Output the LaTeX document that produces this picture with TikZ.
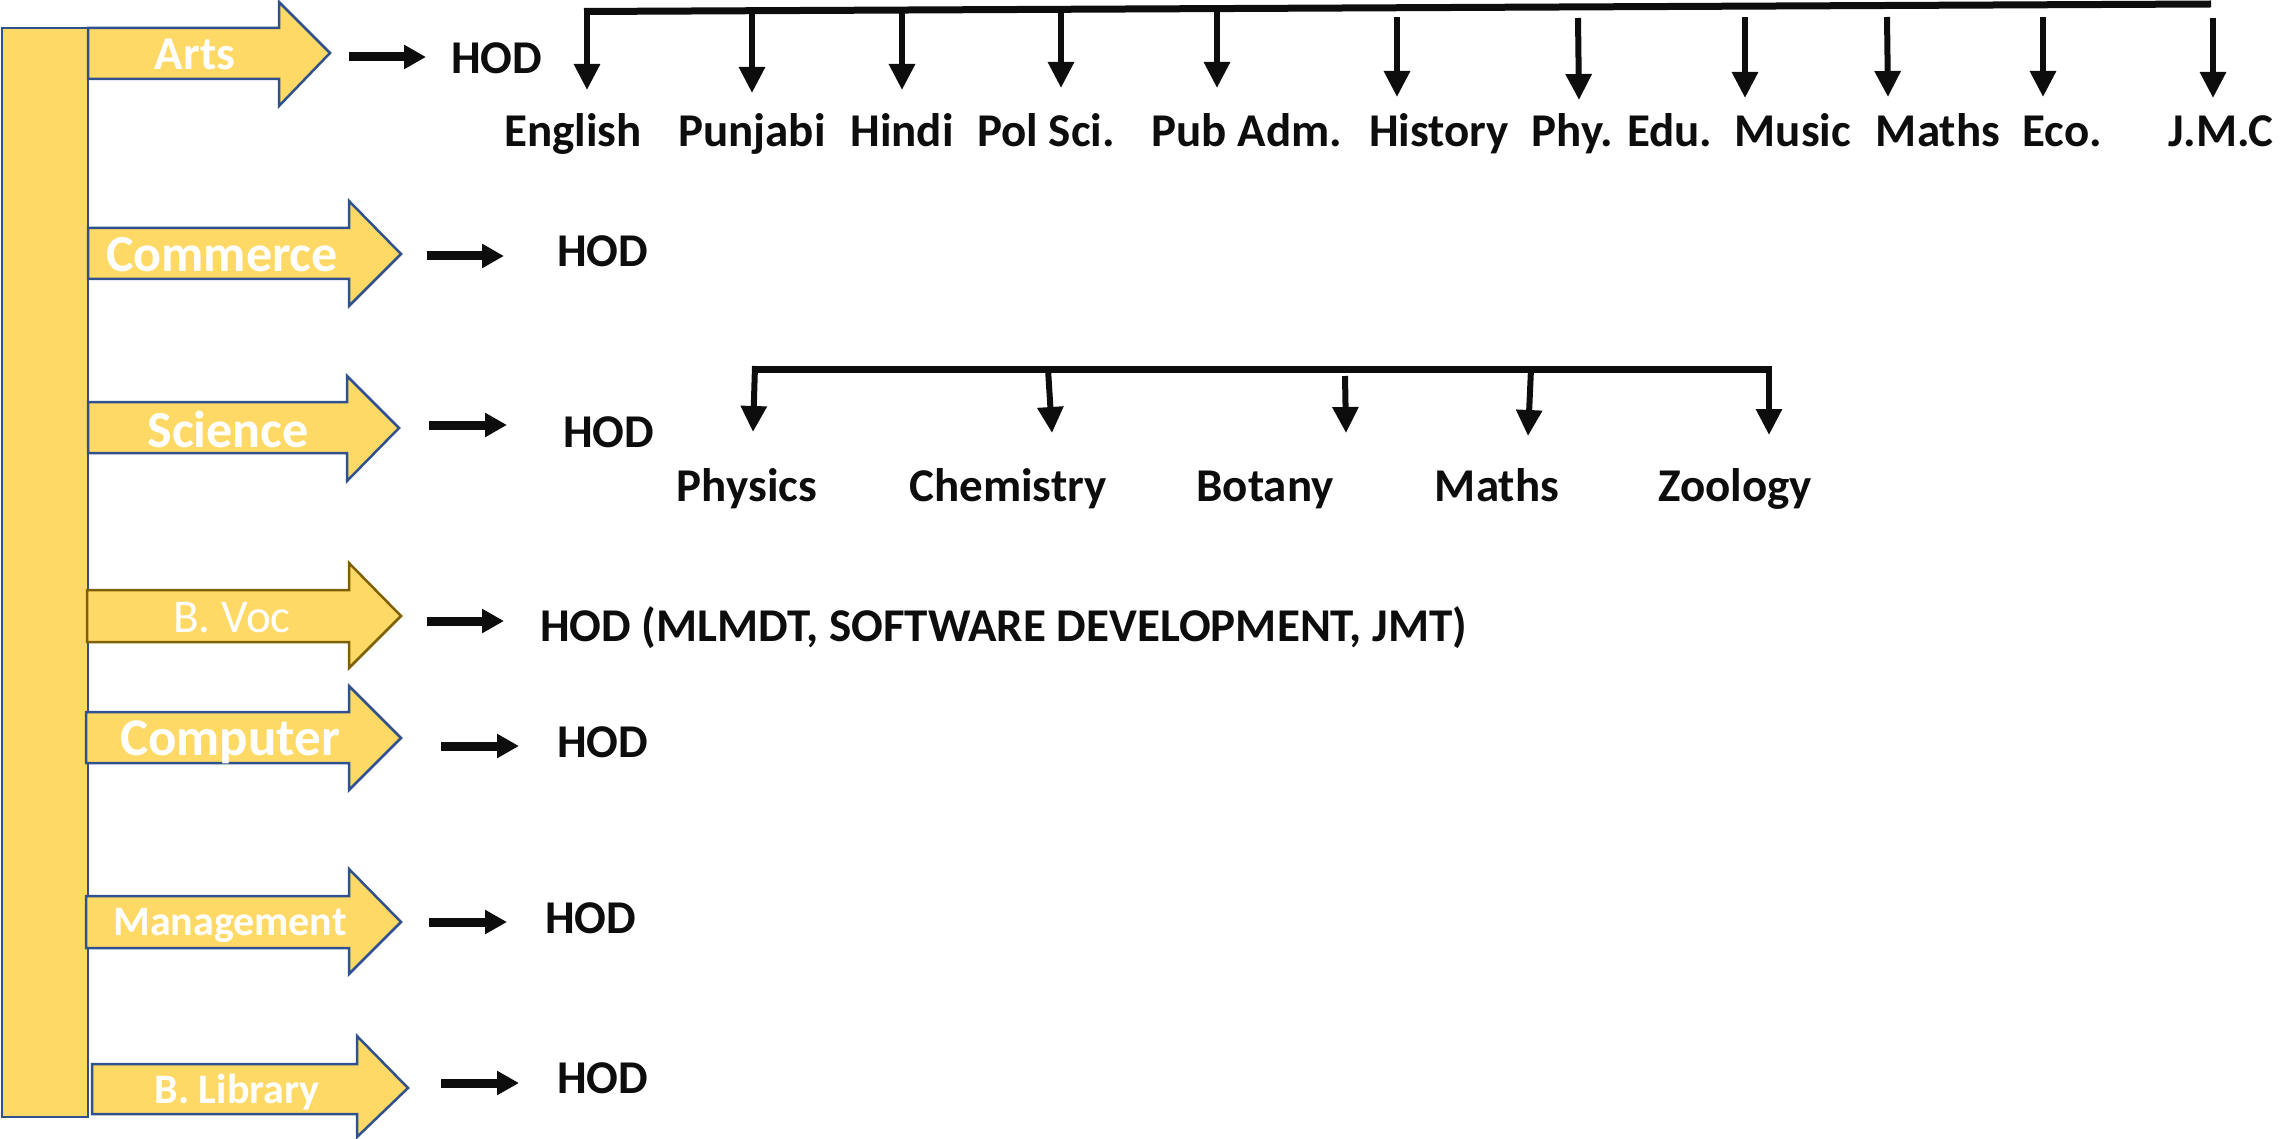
\documentclass[tikz,border=0pt]{standalone}
\usepackage{fontspec}
\setmainfont{Carlito}
\usetikzlibrary{arrows.meta}
\definecolor{gold}{HTML}{FFD966}
\definecolor{blueline}{HTML}{2F528F}
\definecolor{brownline}{HTML}{7F6000}
\definecolor{ink}{HTML}{0D0D0D}
\newcommand{\fsz}[1]{\fontsize{#1}{#1}\selectfont}
\begin{document}
\begin{tikzpicture}[x=1pt,y=-1pt,
  blk/.style={fill=gold,draw=blueline,line width=2.5pt,line join=miter},
  blkb/.style={blk,draw=brownline},
  inlbl/.style={text=white,inner sep=0pt,anchor=base,font=\bfseries\fsz{#1}},
  hod/.style={text=ink,inner sep=0pt,anchor=base west,font=\bfseries\fsz{47}},
  dept/.style={text=ink,inner sep=0pt,anchor=base,font=\bfseries\fsz{47}},
  hodarr/.style={draw=ink,line width=9pt,-{Triangle[width=23pt,length=22pt]}},
  brk/.style={draw=ink,line width=7pt},
  down/.style={draw=ink,line width=6pt,-{Triangle[width=25pt,length=26pt]}},
]
\useasboundingbox (0,0) rectangle (2280,1139);

% main vertical bar
\draw[blk] (2,28) rectangle (88,1117);

% block arrows
\draw[blk]  (88,28) -- (279,28) -- (279,2) -- (330,53) -- (279,106) -- (279,79) -- (88,79) -- cycle;
\draw[blk]  (88,228) -- (349,228) -- (349,201) -- (401,254) -- (349,306) -- (349,279) -- (88,279) -- cycle;
\draw[blk]  (88,402) -- (347,402) -- (347,376) -- (399,428) -- (347,481) -- (347,453) -- (88,453) -- cycle;
\draw[blkb] (87,590) -- (349,590) -- (349,563) -- (401,616) -- (349,668) -- (349,642) -- (87,642) -- cycle;
\draw[blk]  (86,712) -- (349,712) -- (349,686) -- (401,738) -- (349,790) -- (349,763) -- (86,763) -- cycle;
\draw[blk]  (86,896) -- (349,896) -- (349,869) -- (401,922) -- (349,974) -- (349,948) -- (86,948) -- cycle;
\draw[blk]  (92,1064) -- (357,1064) -- (357,1036) -- (408,1088) -- (357,1137) -- (357,1114) -- (92,1114) -- cycle;

% labels in block arrows
\node[inlbl=47] (arts) at (195,70) {Arts};
\node[inlbl=52] (commerce) at (222,272) {Commerce};
\node[inlbl=52] (science) at (228,447) {Science};
\node[inlbl=47,font=\mdseries\fsz{47}] (bvoc) at (232,632) {B. Voc};
\node[inlbl=53] (computer) at (230,755) {Computer};
\node[inlbl=42] (management) at (230,935) {Management};
\node[inlbl=42] (blibrary) at (237,1103) {B. Library};

% HOD labels
\node[hod] (hodA) at (451,74) {HOD};
\node[hod] (hodC) at (557,267) {HOD};
\node[hod] (hodS) at (563,447) {HOD};
\node[hod] (hodV) at (540,641) {HOD (MLMDT, SOFTWARE DEVELOPMENT, JMT)};
\node[hod] (hodP) at (557,757) {HOD};
\node[hod] (hodM) at (545,933) {HOD};
\node[hod] (hodL) at (557,1093) {HOD};

% small arrows to HOD
\coordinate (aAs) at (349,57);   \coordinate (aAe) at (426,57);
\coordinate (aCs) at (427,256);  \coordinate (aCe) at (504,256);
\coordinate (aSs) at (429,425);  \coordinate (aSe) at (507,425);
\coordinate (aVs) at (427,621);  \coordinate (aVe) at (504,621);
\coordinate (aPs) at (441,746);  \coordinate (aPe) at (519,746);
\coordinate (aMs) at (429,922);  \coordinate (aMe) at (507,922);
\coordinate (aLs) at (441,1083); \coordinate (aLe) at (519,1083);
\foreach \k in {A,C,S,V,P,M,L}{\draw[hodarr] (a\k s) -- (a\k e);}

% Arts departments
\coordinate (brL) at (584,11.5);
\coordinate (brR) at (2211,4);
\draw[brk] (brL) -- (brR);
\foreach \n/\xs/\ys/\xe/\ye/\lx/\t in {
  eng/587/8/587/90/573/English,
  pun/752/10.7/752/93/752/Punjabi,
  hin/902/10/902/90/902/Hindi,
  pol/1061/9.3/1061/88/1046/Pol Sci.,
  pub/1217/8.6/1217/88/1247/Pub Adm.,
  his/1397/17/1397/97/1439/History,
  phy/1578/18/1579/100/1622/Phy. Edu.,
  mus/1745/17/1745/98/1793/Music,
  mat/1887/17/1888/97/1938/Maths,
  eco/2043/17/2043/97/2062/Eco.,
  jmc/2213/18/2213/98/2221/J.M.C}{
  \coordinate (\n-s) at (\xs,\ys);
  \coordinate (\n-e) at (\xe,\ye);
  \draw[down] (\n-s) -- (\n-e);
  \node[dept] (\n) at (\lx,147) {\t};
}

% Science departments
\coordinate (sbL) at (752,369.5);
\coordinate (sbR) at (1772,369.5);
\draw[brk] (sbL) -- (sbR);
\foreach \n/\xs/\ys/\xe/\ye/\lx/\t in {
  phys/755/366/753/432/747/Physics,
  chem/1048/369/1052/433/1008/Chemistry,
  bot/1345/376/1346/433/1265/Botany,
  smat/1531/369/1528/436/1497/Maths,
  zoo/1769/366/1769/435/1735/Zoology}{
  \coordinate (\n-s) at (\xs,\ys);
  \coordinate (\n-e) at (\xe,\ye);
  \draw[down] (\n-s) -- (\n-e);
  \node[dept] (\n) at (\lx,501) {\t};
}
\end{tikzpicture}
\end{document}
